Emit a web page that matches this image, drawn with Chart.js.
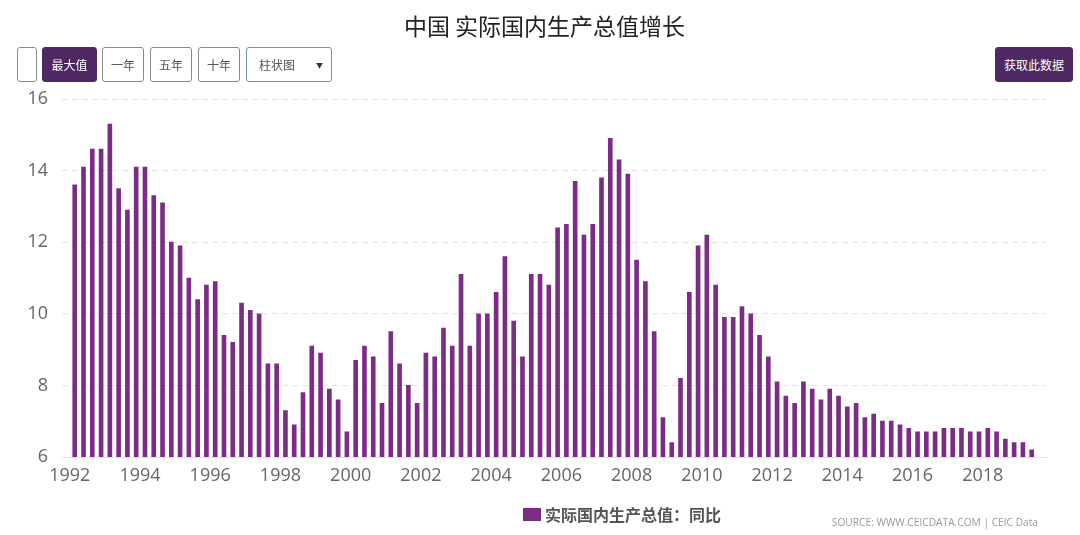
<!DOCTYPE html>
<html>
<head>
<meta charset="utf-8">
<script src="https://cdn.jsdelivr.net/npm/chart.js@4/dist/chart.umd.min.js"></script>
<style>
  html, body { margin: 0; padding: 0; background: #fff; }
  #wrap { position: relative; width: 1080px; height: 535px; overflow: hidden;
          font-family: 'Open Sans', 'Noto Sans CJK SC', sans-serif; }
  #chart { position: absolute; left: 0; top: 0; }
  #title { position: absolute; top: 8px; left: 0; width: 1089px; text-align: center;
           font-family: 'Noto Sans CJK SC', sans-serif; font-size: 23px; color: #222; }
  .btn { position: absolute; top: 47px; height: 35px; box-sizing: border-box;
         border: 1px solid #8a8a8a; border-radius: 3px; background: #fff;
         font-family: 'Noto Sans CJK SC', sans-serif; font-size: 12px; color: #555;
         display: flex; align-items: center; justify-content: center; }
  .btn.on { background: #4f2762; border-color: #4f2762; color: #fff; }
  #legend { position: absolute; left: 523px; top: 502px; display: flex; align-items: center;
            font-family: 'Noto Sans CJK SC', sans-serif; font-weight: bold; font-size: 16px; color: #555; }
  #legend span.box { display: inline-block; width: 18px; height: 13px; background: #7b2c85; margin-right: 4px; }
  #source { position: absolute; right: 42px; top: 515px; font-size: 10.2px; color: #999; }
</style>
</head>
<body>
<div id="wrap">
  <canvas id="chart" width="1080" height="535"></canvas>
  <div id="title">中国 实际国内生产总值增长</div>
  <div class="btn" style="left:17px;width:20px;"></div>
  <div class="btn on" style="left:42px;width:55px;">最大值</div>
  <div class="btn" style="left:102px;width:42px;">一年</div>
  <div class="btn" style="left:150px;width:42px;">五年</div>
  <div class="btn" style="left:198px;width:42px;">十年</div>
  <div class="btn" style="left:246px;width:86px;border-color:#6f8fc4;justify-content:space-between;padding:0 8px 0 12px;">
    <span>柱状图</span><span style="font-size:7px;color:#333;">▼</span></div>
  <div class="btn on" style="left:995px;width:78px;">获取此数据</div>
  <div id="legend"><span class="box"></span><span id="legendText"></span></div>
  <div id="source">SOURCE: WWW.CEICDATA.COM | CEIC Data</div>
</div>

<script>
// 季度数据 1992Q1 - 2019Q2, 同比 %
const startYear = 1992;
const seriesName = '实际国内生产总值：同比';
const gdpYoY = [
  // 1992 - 1997
  13.6, 14.1, 14.6, 14.6, 15.3, 13.5, 12.9, 14.1, 14.1, 13.3, 13.1, 12.0,
  11.9, 11.0, 10.4, 10.8, 10.9, 9.4, 9.2, 10.3, 10.1, 10.0, 8.6, 8.6,
  // 1998 - 2003
  7.3, 6.9, 7.8, 9.1, 8.9, 7.9, 7.6, 6.7, 8.7, 9.1, 8.8, 7.5,
  9.5, 8.6, 8.0, 7.5, 8.9, 8.8, 9.6, 9.1, 11.1, 9.1, 10.0, 10.0,
  // 2004 - 2010
  10.6, 11.6, 9.8, 8.8, 11.1, 11.1, 10.8, 12.4, 12.5, 13.7, 12.2, 12.5,
  13.8, 14.9, 14.3, 13.9, 11.5, 10.9, 9.5, 7.1, 6.4, 8.2, 10.6, 11.9,
  12.2, 10.8, 9.9, 9.9,
  // 2011 - 2019
  10.2, 10.0, 9.4, 8.8, 8.1, 7.7, 7.5, 8.1, 7.9, 7.6, 7.9, 7.7,
  7.4, 7.5, 7.1, 7.2, 7.0, 7.0, 6.9, 6.8, 6.7, 6.7, 6.7, 6.8,
  6.8, 6.8, 6.7, 6.7, 6.8, 6.7, 6.5, 6.4, 6.4, 6.2
];
const yearTicks = [1992, 1994, 1996, 1998, 2000, 2002, 2004, 2006, 2008, 2010, 2012, 2014, 2016, 2018];
const yTicks = [6, 8, 10, 12, 14, 16];

document.getElementById('legendText').textContent = seriesName;

const barColor = '#7b2c85';

const config = {
  type: 'bar',
  data: {
    datasets: [{
      label: seriesName,
      data: gdpYoY.map((v, i) => ({ x: i, y: v })),
      backgroundColor: barColor,
      borderWidth: 0,
      barThickness: 4
    }]
  },
  options: {
    responsive: false,
    animation: false,
    layout: { padding: { left: 0, right: 34, top: 99, bottom: 48 } },
    plugins: { legend: { display: false }, tooltip: { enabled: false } },
    scales: {
      x: {
        type: 'linear',
        offset: false,
        min: -1.45,
        max: 110.63,
        grid: { display: false, drawTicks: false, offset: false },
        border: { display: true, color: '#e2e2e2' },
        afterBuildTicks: (axis) => { axis.ticks = yearTicks.map(y => ({ value: (y - startYear) * 4 })); },
        afterFit: (axis) => { axis.height = 30; },
        ticks: {
          autoSkip: false,
          maxRotation: 0,
          padding: 8,
          labelOffset: -5,
          color: '#666',
          font: { family: "'Open Sans', sans-serif", size: 18 },
          callback: (v) => String(startYear + v / 4)
        }
      },
      y: {
        min: 6,
        max: 16,
        afterBuildTicks: (axis) => { axis.ticks = yTicks.map(v => ({ value: v })); },
        afterFit: (axis) => { axis.width = 62; },
        grid: { color: '#e4e4e4', drawTicks: false },
        border: { display: false, dash: [6, 4] },
        ticks: {
          padding: 14,
          color: '#666',
          font: { family: "'Open Sans', sans-serif", size: 18 }
        }
      }
    }
  }
};

const ctx = document.querySelector('#chart').getContext('2d');
new Chart(ctx, config);
</script>
</body>
</html>
